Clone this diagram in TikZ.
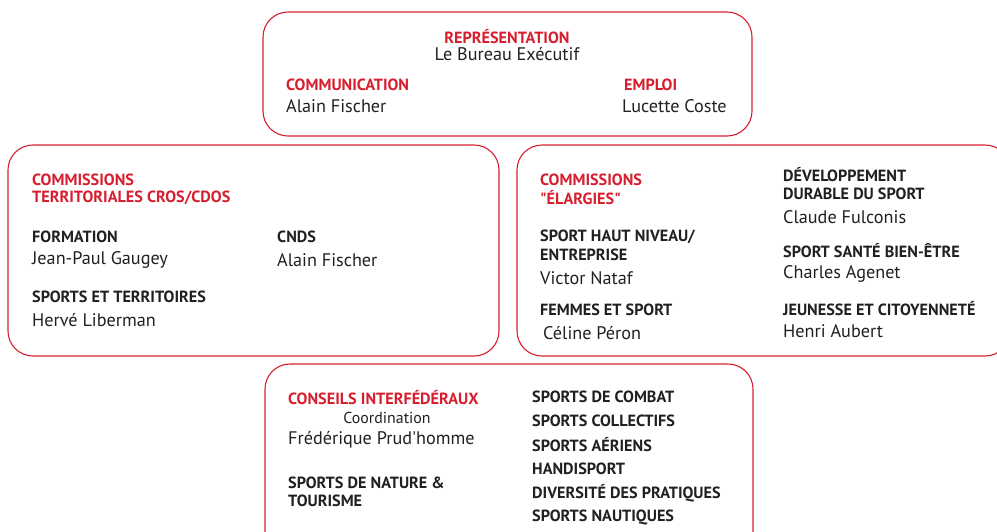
\documentclass[tikz,border=0pt]{standalone}
\usepackage{fontspec}
\setmainfont{PT Sans}
\definecolor{cred}{RGB}{214,30,46}
\definecolor{ctxt}{RGB}{35,31,32}
\begin{document}
\begin{tikzpicture}[x=1pt,y=-1pt,
  frame/.style={draw=cred,line width=1.1pt,rounded corners=25pt},
  txt/.style={inner sep=0pt,anchor=west,text=ctxt},
  hd/.style={txt,text=cred,font=\fontsize{16.2}{18}\selectfont\bfseries},
  lb/.style={txt,font=\fontsize{16.2}{18}\selectfont\bfseries},
  nm/.style={txt,font=\fontsize{18.2}{20}\selectfont}]
\useasboundingbox (0,0) rectangle (997,531);
\clip (0,0) rectangle (997,531);
% frames
\draw[frame] (263,12) rectangle (752,136);
\draw[frame] (8,145) rectangle (499,356);
\draw[frame] (517,145) rectangle (1010,356);
\draw[frame] (265,364) rectangle (753,560);
% top box
\node[hd,anchor=center] (rep) at (507,37) {REPRÉSENTATION};
\node[nm,anchor=center] (bur) at (507,54) {Le Bureau Exécutif};
\node[hd] (com) at (286,85) {COMMUNICATION};
\node[nm] (comn) at (286,106) {Alain Fischer};
\node[hd] (emp) at (624,85) {EMPLOI};
\node[nm] (empn) at (622,106) {Lucette Coste};
% left box
\node[hd] (ct1) at (32,180) {COMMISSIONS};
\node[hd] (ct2) at (32,198) {TERRITORIALES CROS/CDOS};
\node[lb] (for) at (32,237) {FORMATION};
\node[nm] (forn) at (32,260) {Jean-Paul Gaugey};
\node[lb] (cnds) at (277,237) {CNDS};
\node[nm] (cndsn) at (277,260) {Alain Fischer};
\node[lb] (spt) at (32,297) {SPORTS ET TERRITOIRES};
\node[nm] (sptn) at (32,320) {Hervé Liberman};
% right box
\node[hd] (ce1) at (540,180) {COMMISSIONS};
\node[hd] (ce2) at (540,198) {\textquotedbl ÉLARGIES\textquotedbl};
\node[lb] (shn1) at (540,237) {SPORT HAUT NIVEAU/};
\node[lb] (shn2) at (540,255) {ENTREPRISE};
\node[nm] (shnn) at (540,278) {Victor Nataf};
\node[lb] (fem) at (540,310) {FEMMES ET SPORT};
\node[nm] (femn) at (543,333) {Céline Péron};
\node[lb] (dd1) at (783,175) {DÉVELOPPEMENT};
\node[lb] (dd2) at (783,194) {DURABLE DU SPORT};
\node[nm] (ddn) at (783,217) {Claude Fulconis};
\node[lb] (ssb) at (783,251) {SPORT SANTÉ BIEN-ÊTRE};
\node[nm] (ssbn) at (783,274) {Charles Agenet};
\node[lb] (jc) at (783,309) {JEUNESSE ET CITOYENNETÉ};
\node[nm] (jcn) at (783,331) {Henri Aubert};
% bottom box
\node[hd] (cif) at (288,398) {CONSEILS INTERFÉDÉRAUX};
\node[txt,anchor=center,font=\fontsize{15.9}{18}\selectfont] (coo) at (387,418) {Coordination};
\node[nm] (coon) at (288,440) {Frédérique Prud\textquotesingle homme};
\node[lb] (snt1) at (288,483) {SPORTS DE NATURE \&};
\node[lb] (snt2) at (288,501) {TOURISME};
\node[lb] (s1) at (532,397) {SPORTS DE COMBAT};
\node[lb] (s2) at (532,421) {SPORTS COLLECTIFS};
\node[lb] (s3) at (532,445) {SPORTS AÉRIENS};
\node[lb] (s4) at (532,469) {HANDISPORT};
\node[lb] (s5) at (532,493) {DIVERSITÉ DES PRATIQUES};
\node[lb] (s6) at (532,517) {SPORTS NAUTIQUES};
\end{tikzpicture}
\end{document}
